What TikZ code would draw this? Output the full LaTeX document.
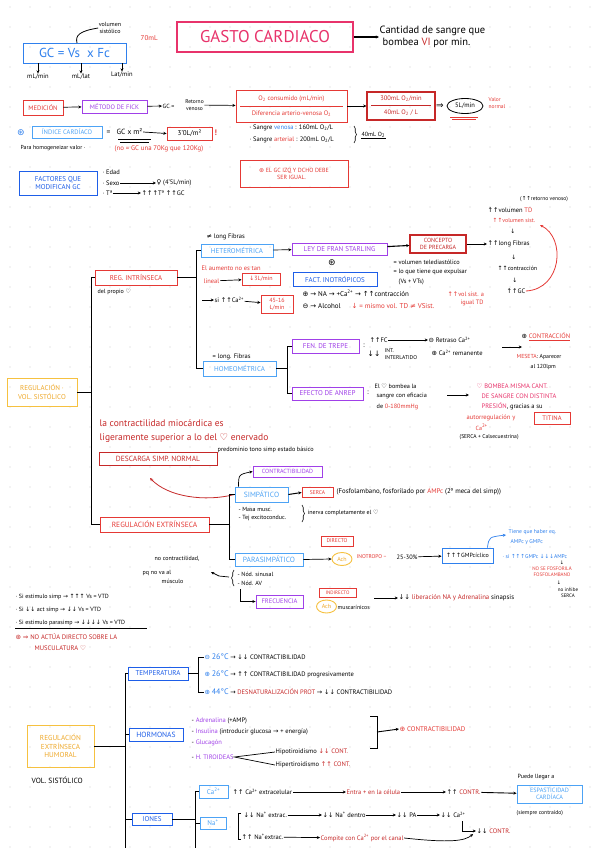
\documentclass[tikz,border=0pt]{standalone}
\usepackage{fontspec}
\setmainfont{PT Sans}
\newfontfamily\symf{DejaVu Sans}
\usetikzlibrary{arrows.meta,shapes.geometric,decorations.pathreplacing}
\definecolor{cRed}{HTML}{E53935}
\definecolor{cDRed}{HTML}{C62828}
\definecolor{cPink}{HTML}{E8336B}
\definecolor{cBlue}{HTML}{2F80ED}
\definecolor{cLBlue}{HTML}{4DA3F5}
\definecolor{cDBlue}{HTML}{1E5EE8}
\definecolor{cPurple}{HTML}{A040E8}
\definecolor{cYellow}{HTML}{F6C140}
\definecolor{cOrange}{HTML}{EFA92A}
\definecolor{dotc}{HTML}{CFCFCF}
\newcommand\fs[1]{\fontsize{#1}{\fpeval{1.18*#1}}\selectfont}
\newcommand\xU{{\symf ↑}}
\newcommand\xD{{\symf ↓}}
\newcommand\xR{{\symf →}}
\newcommand\xP{{\symf ⊕}}
\newcommand\xM{{\symf ⊖}}
\newcommand\xS{{\symf ⊛}}
\newcommand\xH{{\symf ♡}}
\newcommand\xF{{\symf ♀}}
\newcommand\xN{{\symf ≠}}
\newcommand\xDR{{\symf ⇒}}
\newcommand\sps[1]{\textsuperscript{#1}}
\begin{document}
\begin{tikzpicture}[x=1pt,y=-1pt,
  bx/.style={draw,line width=0.9pt,inner sep=1pt,align=center,font=\fs{7},anchor=center},
  tx/.style={inner sep=0.5pt,anchor=west,font=\fs{6.5}},
  arr/.style={-{Stealth[length=3.2pt,width=3pt]},line width=0.7pt},
  ln/.style={line width=0.9pt},
  brc/.style={decorate,decoration={brace,amplitude=2.5pt},line width=0.6pt}]
\fill[white] (0,0) rectangle (600,848);
\useasboundingbox (0,0) rectangle (600,848);
\foreach \gx in {10,30,...,590} \foreach \gy in {7,27,...,847} \fill[dotc] (\gx,\gy) circle (0.7);

% ---------- top ----------
\node[bx,draw=cBlue,text=cBlue,font=\fs{13},minimum width=103pt,minimum height=20pt] (gc) at (74.5,53) {GC = Vs\; x Fc};
\node[tx,anchor=center,font=\fs{6},align=center] (vsis) at (110,28) {volumen\\sistólico};
\draw[line width=0.8pt] (77,43) .. controls (75,35) and (80,31) .. (vsis.west);
\node[tx,anchor=center] (u1) at (38,77) {mL/min};
\node[tx,anchor=center] (u2) at (81,77) {mL/lat};
\node[tx,anchor=center] (u3) at (122,75) {Lat/min};
\draw[arr] (gc.south -| u1) -- (u1.north);
\draw[arr] (gc.south -| u2) -- (u2.north);
\draw[arr] (gc.south -| u3) -- (u3.north);
\node[tx,text=cRed,font=\fs{7}] (ml70) at (140,38) {70mL};
\node[bx,draw=cPink,text=cPink,line width=1.6pt,font=\fs{17},minimum width=176pt,minimum height=30pt] (gasto) at (265,37) {GASTO CARDIACO};
\node[tx,font=\fs{10.5},align=left] (def) at (379,37) {Cantidad de sangre que\\\hspace{3pt}bombea {\color{cDRed}VI} por min.};
\draw[arr,line width=1.1pt] (gasto.east) -- (def.west);

% ---------- medicion ----------
\node[bx,draw=cRed,text=cRed,font=\fs{6.5},minimum width=40pt,minimum height=15pt] (med) at (43,107.5) {MEDICIÓN};
\node[bx,draw=cPurple,text=cPurple,font=\fs{6.5},minimum width=65pt,minimum height=13pt] (fick) at (114.5,106.5) {MÉTODO DE FICK};
\draw[arr] (med) -- (fick);
\node[tx,font=\fs{6}] (gce) at (162,106) {GC =};
\node[tx,anchor=center,font=\fs{5.5},align=center] (rv) at (194.5,105) {Retorno\\venoso};
\draw[arr] (fick) -- (gce);
\node[bx,draw=cRed,minimum width=111pt,minimum height=32pt] (frac1) at (291.5,106) {};
\node[tx,anchor=center,text=cRed] (f1n) at (291.5,99) {O\textsubscript{2} consumido (mL/min)};
\node[tx,anchor=center,text=cRed] (f1d) at (291.5,114) {Diferencia arterio-venosa O\textsubscript{2}};
\draw[cRed,line width=0.7pt] (240,106) -- (343,106);
\draw[arr] (rv) -- (frac1);
\node[bx,draw=cDRed,line width=1.2pt,minimum width=68pt,minimum height=28pt] (frac2) at (401,106) {};
\node[tx,anchor=center,text=cDRed] (f2n) at (401,99) {300mL O\textsubscript{2}/min};
\node[tx,anchor=center,text=cDRed] (f2d) at (401,113) {40mL O\textsubscript{2} / L};
\draw[cDRed,line width=0.8pt] (371,105.5) -- (431,105.5);
\draw[arr] (frac1) -- (frac2);
\node[tx,anchor=center,font=\fs{9}] (impl) at (440,106) {\xDR};
\node[draw,ellipse,line width=0.8pt,minimum width=36pt,minimum height=15pt,inner sep=0pt,font=\fs{6.5}] (five) at (465,106) {5L/min};
\draw[cRed,line width=0.8pt] (450,117) -- (478,117) (452,119.5) -- (476,119.5);
\node[tx,text=cRed,font=\fs{5.5},align=left] (valor) at (488,103) {Valor\\normal};

% ---------- indice ----------
\node[tx,anchor=center,text=cBlue,font=\fs{9}] (star1) at (21,133) {\xS};
\node[bx,draw=cLBlue,text=cLBlue,font=\fs{6.5},minimum width=70pt,minimum height=12pt] (ic) at (67,132) {ÍNDICE CARDÍACO};
\node[tx,font=\fs{7.5}] (icf) at (106,132) {=\;\; GC x m²};
\draw[line width=0.6pt] (118,139.5) -- (151,139.5) (120,141.8) -- (149,141.8);
\node[bx,draw=cRed,font=\fs{7},minimum width=45pt,minimum height=13pt] (ib) at (189.5,133.5) {3'0L/m²};
\draw[arr] (icf.east) -- (ib.west);
\node[tx,text=cRed,font=\fs{8}] (excl) at (214,133) {\textbf{!}};
\node[tx] (sv) at (249,128) {· Sangre {\color{cBlue}venosa} : 160mL O\textsubscript{2}/L};
\node[tx] (sa) at (249,140) {· Sangre {\color{cRed}arterial} : 200mL O\textsubscript{2}/L};
\draw[brc] (354,126) -- (354,143);
\node[tx,font=\fs{6}] (o40) at (361,135) {40mL O\textsubscript{2}};
\draw[line width=1pt] (o40.south west) -- (o40.south east);
\node[tx,font=\fs{5.8}] (phv) at (20,148) {Para homogeneizar valor ·};
\node[tx,text=cRed,font=\fs{6.8}] (nogc) at (114,149) {(no = GC una 70Kg que 120Kg)};

% ---------- factores ----------
\node[bx,draw=cDBlue,text=cDBlue,font=\fs{7},minimum width=78pt,minimum height=24pt] (fac) at (58,183) {FACTORES QUE\\MODIFICAN GC};
\node[tx] (f1) at (102,172) {· Edad};
\node[tx] (f2) at (102,183) {· Sexo};
\node[tx] (f2b) at (156,183) {\xF\ (4'5L/min)};
\draw[arr] (f2) -- (f2b);
\node[tx] (f3) at (102,193) {· Tª};
\node[tx] (f3b) at (141,193) {\xU\xU\xU Tª \xU\xU GC};
\draw[arr] (f3) -- (f3b);
\node[bx,draw=cRed,text=cRed,font=\fs{6},minimum width=108pt,minimum height=27pt,align=left] (note1) at (294,173.5) {\xS\ EL GC IZQ Y DCHO DEBE\\\hspace{18pt}SER IGUAL.};

% ---------- regulacion intrinseca ----------
\node[bx,draw=cYellow,text=cOrange,font=\fs{7},minimum width=70pt,minimum height=28pt] (regv) at (42,392) {REGULACIÓN ·\\VOL. SISTÓLICO};
\node[bx,draw=cRed,text=cRed,font=\fs{7},minimum width=82pt,minimum height=15pt] (regi) at (136,277.5) {REG. INTRÍNSECA};
\node[tx,font=\fs{6}] (dp) at (97,292) {del propio \xH};
\node[bx,draw=cRed,text=cRed,font=\fs{7.5},minimum width=109pt,minimum height=15pt] (rege) at (154.5,524.5) {REGULACIÓN EXTRÍNSECA};
\draw[ln] (regi.west) -- (91,277.5) -- (91,524.5) -- (rege.west);
\draw[ln] (regv.east) -- (91,392);

\node[tx] (nlf) at (206,237) {\xN\ long Fibras};
\node[bx,draw=cLBlue,text=cLBlue,minimum width=72pt,minimum height=13pt] (het) at (237,250.5) {HETEROMÉTRICA};
\node[bx,draw=cLBlue,text=cLBlue,minimum width=73pt,minimum height=15pt] (homeo) at (239.5,368.5) {HOMEOMÉTRICA};
\draw[ln] (regi.east) -- (196,277.5);
\draw[ln] (het.west) -- (196,250.5) -- (196,368.5) -- (homeo.west);
\node[bx,draw=cPurple,text=cPurple,minimum width=95pt,minimum height=12pt] (ley) at (339.5,249) {LEY DE FRAN STARLING};
\node[bx,draw=cDRed,text=cDRed,line width=1.3pt,font=\fs{6},minimum width=56pt,minimum height=18pt] (prec) at (438,244) {CONCEPTO\\DE PRECARGA};
\draw[arr] (het) -- (ley);
\draw[arr,line width=1.1pt] (ley) -- (prec);
\node[tx,anchor=center,font=\fs{5.5}] (rv2) at (544,199) {(\xU\xU retorno venoso)};
\node[tx] (vtd) at (487,210) {\xU\xU volumen {\color{cRed}TD}};
\node[tx,text=cRed,font=\fs{5.8}] (vsist) at (492,220) {\xU\xU volumen sist.};
\node[tx,anchor=center,font=\fs{6}] (d1) at (513,231) {\xD};
\node[tx] (lf) at (487,244) {\xU\xU long Fibras};
\node[tx,anchor=center,font=\fs{6}] (d2) at (514,257) {\xD};
\node[tx,font=\fs{6}] (contr) at (497,268) {\xU\xU contracción};
\node[tx,anchor=center,font=\fs{6}] (d3) at (515,280) {\xD};
\node[tx] (gcu) at (506,291) {\xU\xU GC};
\draw[arr] (prec) -- (lf);
\coordinate (vst) at (540,225);
\draw[arr,cRed,line width=0.8pt] (gcu.east) .. controls (562,289) and (566,238) .. (vst);
\node[tx,anchor=center,font=\fs{9}] (st2) at (332,263) {\xS};
\node[tx,font=\fs{6.3}] (tele) at (393,262) {= volumen telediastólico};
\node[tx,font=\fs{6.3}] (expu) at (393,272) {= lo que tiene que expulsar};
\node[tx,font=\fs{6.3}] (vsvt) at (398,282) {(Vs + VTs)};
\node[bx,draw=cDBlue,text=cDBlue,minimum width=84pt,minimum height=14pt] (ino) at (335,279) {FACT. INOTRÓPICOS};
\node[tx,text=cRed] (aum) at (201,268) {El aumento no es tan};
\node[tx,text=cRed] (lin) at (203,281) {lineal};
\node[bx,draw=cRed,text=cRed,font=\fs{6},minimum width=38pt,minimum height=12pt] (l3) at (261,279) {\xD 3L/min};
\draw[arr] (lin) -- (l3);
\coordinate (sic0) at (202,300);
\node[tx] (sica) at (214,300) {si \xU\xU Ca\sps{2+}};
\node[bx,draw=cRed,text=cRed,font=\fs{6},minimum width=32pt,minimum height=18pt] (b45) at (277,304) {45-16\\L/min};
\draw[arr] (sic0) -- (sica);
\draw[arr] (sica) -- (b45);
\node[tx,font=\fs{7}] (inop) at (302,293) {\xP\ \xR\ NA \xR\ +Ca\sps{2+} \xR\ \xU\xU contracción};
\node[tx,text=cRed,font=\fs{6.3}] (inopr) at (447,294) {\xU\xU vol sist. a};
\node[tx,text=cRed,font=\fs{6.3}] (igtd) at (460,303) {igual TD};
\node[tx,font=\fs{7}] (inom) at (302,306) {\xM\ \xR\ Alcohol};
\node[tx,text=cRed,font=\fs{7}] (inomr) at (351,306) {\xD\ = mismo vol. TD \xN\ VSist.};

\node[tx] (elf) at (212,357) {= long. Fibras};
\node[bx,draw=cPurple,text=cPurple,minimum width=67pt,minimum height=14pt] (fen) at (325.5,346) {FEN. DE TREPE};
\node[bx,draw=cPurple,text=cPurple,minimum width=71pt,minimum height=13pt] (anrep) at (327.5,393.5) {EFECTO DE ANREP};
\draw[ln] (homeo.east) -- (287,368.5);
\draw[ln] (fen.west) -- (287,346) -- (287,393.5) -- (anrep.west);
\node[tx,anchor=center,font=\fs{7}] (c1) at (364,346) {:};
\node[tx] (fc) at (369,340) {\xU\xU FC};
\node[tx,anchor=center,font=\fs{7.5}] (intd) at (374,354) {\xD\xD};
\node[tx,font=\fs{5.5},align=left] (intl) at (384,354) {INT.\\INTERLATIDO};
\node[tx] (ret) at (428,340) {\xM\ Retraso Ca\sps{2+}};
\node[tx] (rem) at (431,353) {\xP\ Ca\sps{2+} remanente};
\draw[arr] (fc) -- (ret);
\coordinate (ar1) at (502,347);
\coordinate (ar2) at (522,347);
\draw[arr] (ar1) -- (ar2);
\node[tx] (contrac) at (521,337) {\xP\ {\color{cRed}\underline{CONTRACCIÓN}}};
\node[tx,font=\fs{5.8}] (mes) at (516,357) {{\color{cRed}MESETA}: Aparecer};
\node[tx,font=\fs{5.8}] (mes2) at (530,367) {al 120lpm};
\node[tx,anchor=center,font=\fs{7}] (c2) at (368,393) {:};
\node[tx,font=\fs{6.2}] (ea1) at (374,386) {El \xH\ bombea la};
\node[tx,font=\fs{6.2}] (ea2) at (376,396) {sangre con eficacia};
\node[tx,font=\fs{6.2}] (ea3) at (376,407) {de {\color{cRed}0-180mmHg}};
\coordinate (aa1) at (447,395);
\coordinate (aa2) at (469,395);
\draw[arr] (aa1) -- (aa2);
\node[tx,text=cPink] (pk1) at (476,386) {\xH\ BOMBEA MISMA CANT.};
\node[tx,text=cPink] (pk2) at (481,396) {DE SANGRE CON DISTINTA};
\node[tx,text=cPink] (pk3) at (481,406) {PRESIÓN{\color{black}, gracias a su}};
\node[tx,text=cRed] (pk4) at (466,418) {autorregulación y};
\node[bx,draw=cRed,text=cRed,font=\fs{6.5},minimum width=36pt,minimum height=12pt] (tit) at (552,418.5) {TITINA};
\node[tx,text=cRed,font=\fs{6}] (ca) at (475,427) {Ca\sps{2+}};
\node[tx,font=\fs{5.6}] (serca1) at (459,437) {(SERCA + Calsecuestrina)};

% ---------- regulacion extrinseca ----------
\node[tx,text=cDRed,font=\fs{9.5}] (lc1) at (99,423) {la contractilidad miocárdica es};
\node[tx,text=cDRed,font=\fs{9.5}] (lc2) at (99,438) {ligeramente superior a lo del \xH\ enervado};
\node[tx,font=\fs{6.2}] (pred) at (217,450) {predominio tono simp estado básico};
\node[bx,draw=cDRed,text=cDRed,font=\fs{7.5},minimum width=118pt,minimum height=13pt] (desc) at (158,458.5) {DESCARGA SIMP. NORMAL};
\node[bx,draw=cPurple,text=cPurple,font=\fs{6},minimum width=69pt,minimum height=11pt] (ctb) at (287.5,471.5) {CONTRACTIBILIDAD};
\node[bx,draw=cLBlue,text=cLBlue,font=\fs{7.5},minimum width=53pt,minimum height=15pt] (simp) at (261.5,494.5) {SIMPÁTICO};
\draw[arr] ([xshift=4pt]simp.north west) .. controls +(0,-12) .. (ctb.west);
\coordinate (tipd) at (150,478);
\draw[arr,cDRed,line width=0.8pt] (simp.west) .. controls (205,502) and (168,497) .. (tipd);
\node[bx,draw=cRed,text=cRed,font=\fs{5.5},minimum width=31pt,minimum height=10pt] (serca) at (317.5,492.5) {SERCA};
\draw[arr,line width=1pt] (simp.east) -- (serca.west);
\node[tx,font=\fs{6.8}] (fosfo) at (336,492) {(Fosfolambano, fosforilado por {\color{cRed}AMPc} (2º meca del simp))};
\node[tx,font=\fs{6}] (masa) at (238,509) {- Masa musc.};
\node[tx,font=\fs{6}] (tej) at (238,518) {- Tej excitoconduc.};
\draw[brc] (302,505) -- (302,522);
\node[tx,font=\fs{6}] (inerva) at (307,513) {inerva completamente el \xH};
\node[bx,draw=cLBlue,text=cLBlue,font=\fs{7.5},minimum width=68pt,minimum height=13pt] (para) at (269,559.5) {PARASIMPÁTICO};
\draw[ln] (rege.east) -- (229,524.5);
\draw[ln] (simp.west) -- (229,494.5) -- (229,559.5) -- (para.west);
\node[tx,font=\fs{6}] (noc) at (154,559) {no contractilidad,};
\node[tx,font=\fs{6}] (pq) at (142,573) {pq no va al};
\node[tx,font=\fs{6}] (musc) at (161,581) {músculo};
\coordinate (bk1) at (229,577);
\coordinate (bk2) at (211,572);
\draw[arr] (bk1) -- (219,576) -- (bk2);
\draw[brc] (234,586) -- (234,570);
\node[tx,font=\fs{6}] (nods) at (237,574) {- Nód. sinusal};
\node[tx,font=\fs{6}] (nodav) at (237,583) {- Nód. AV};
\coordinate (fr0) at (240,589);
\node[bx,draw=cPurple,text=cPurple,font=\fs{6.5},minimum width=47pt,minimum height=13pt] (freq) at (279.5,601.5) {FRECUENCIA};
\draw[arr] (fr0) |- (freq.west);
\node[bx,draw=cRed,text=cRed,font=\fs{5.5},minimum width=32pt,minimum height=10pt] (dir) at (337,541) {DIRECTO};
\node[draw=cYellow,ellipse,line width=0.9pt,text=cOrange,font=\fs{6},minimum width=20pt,minimum height=13pt,inner sep=0pt] (ach1) at (342,559) {Ach};
\draw[arr] (para.east) -- (ach1.west);
\node[tx,text=cRed,font=\fs{5.5}] (inot) at (356,557) {INOTROPO \textminus};
\node[tx,font=\fs{6.3}] (pct) at (396,557) {25-30\%};
\node[bx,draw=cBlue,font=\fs{6},minimum width=51pt,minimum height=15pt] (gmpc) at (467.5,555.5) {\xU\xU\xU GMPcíclico};
\draw[arr] (pct) -- (gmpc);
\coordinate (teqc) at (506,535);
\draw[arr,cBlue] ([xshift=-6pt]gmpc.north east) .. controls (489,537) .. (teqc);
\node[tx,text=cBlue,font=\fs{5.6}] (teq) at (508,532) {Tiene que haber eq.};
\node[tx,text=cBlue,font=\fs{5.6}] (teq2) at (510,542) {AMPc y GMPc};
\node[tx,text=cBlue,font=\fs{5.6}] (sig) at (502,556) {· si \xU\xU\xU GMPc \xD\xD\xD AMPc};
\node[tx,anchor=center,font=\fs{5}] (dar1) at (562,563) {\xD};
\node[tx,anchor=center,text=cRed,font=\fs{5},align=center] (nofos) at (552,572) {NO SE FOSFORILA\\FOSFOLAMBANO};
\node[tx,anchor=center,font=\fs{5}] (dar2) at (559,583) {\xD};
\node[tx,anchor=center,font=\fs{5},align=center] (noinh) at (568,592.5) {no inhibe\\SERCA};
\node[bx,draw=cRed,text=cRed,font=\fs{5},minimum width=37pt,minimum height=9pt] (ind) at (337.5,592.5) {INDIRECTO};
\node[draw=cYellow,ellipse,line width=0.9pt,text=cOrange,font=\fs{6},minimum width=20pt,minimum height=13pt,inner sep=0pt] (ach2) at (326.5,606.5) {Ach};
\node[tx,font=\fs{5.8}] (musca) at (337,607) {muscarínicos};
\coordinate (ia1) at (374,598);
\node[tx,font=\fs{6.8}] (lib) at (398,598) {\xD\xD\ {\color{cDRed}liberación NA y Adrenalina} sinapsis};
\draw[arr] (ia1) -- (lib.west);

% ---------- left notes ----------
\node[tx,font=\fs{6}] (n1) at (15,597) {· Si estimulo simp \xR\ \xU\xU\xU\ Vs = VTD};
\node[tx,font=\fs{6}] (n2) at (15,610) {· Si \xD\xD\ act simp \xR\ \xD\xD\ Vs = VTD};
\node[tx,font=\fs{6}] (n3) at (15,623) {· Si estimulo parasimp \xR\ \xD\xD\xD\xD\ Vs = VTD};
\draw[line width=0.6pt] ([yshift=-1.5pt]n3.south west) -- ++(132,0);
\node[tx,text=cDRed,font=\fs{6.6}] (n4) at (15,637) {\xS\ \xDR\ NO ACTÚA DIRECTO SOBRE LA};
\node[tx,text=cDRed,font=\fs{6.6}] (n5) at (34,648) {MUSCULATURA \xH};

% ---------- humoral ----------
\node[bx,draw=cDBlue,text=cDBlue,minimum width=60pt,minimum height=13pt] (temp) at (158,673.5) {TEMPERATURA};
\coordinate (tb) at (125,850);
\draw[ln] (temp.west) -- (125,673.5) -- (tb);
\draw[ln] (temp.east) -- (198,673.5);
\node[tx] (t1) at (204,657) {{\color{cBlue}\xM\ {\fs{8}26°C}} \xR\ \xD\xD\ CONTRACTIBILIDAD};
\node[tx] (t2) at (204,674) {{\color{cBlue}\xP\ {\fs{8}26°C}} \xR\ \xU\xU\ CONTRACTIBILIDAD progresivamente};
\node[tx] (t3) at (204,692) {{\color{cBlue}\xP\ {\fs{8}44°C}} \xR\ {\color{cDRed}DESNATURALIZACIÓN PROT} \xR\ \xD\xD\ CONTRACTIBILIDAD};
\draw[ln] (t1.west) -- (198,657) -- (198,692) -- (t3.west);
\node[bx,draw=cYellow,text=cOrange,font=\fs{7.2},minimum width=67pt,minimum height=42pt] (hum) at (60.5,746) {REGULACIÓN\\EXTRÍNSECA\\HUMORAL};
\draw[ln] (hum.east) -- (125,746);
\node[tx,font=\fs{7.5}] (vsh) at (31,780) {VOL. SISTÓLICO};
\node[bx,draw=cDBlue,text=cDBlue,font=\fs{7.5},minimum width=54pt,minimum height=13pt] (horm) at (156,734.5) {HORMONAS};
\draw[ln] (125,734.5) -- (horm.west);
\node[tx] (h1) at (191,721) {- {\color{cPurple}Adrenalina} (+AMP)};
\node[tx] (h2) at (191,732) {- {\color{cPurple}Insulina} (introducir glucosa \xR\ + energía)};
\node[tx] (h3) at (191,743) {- {\color{cPurple}Glucagón}};
\node[tx] (h4) at (191,757) {- {\color{cPurple}H. TIROIDEAS}};
\node[tx] (hipo) at (275,752) {Hipotiroidismo {\color{cDRed}\xD\xD\ CONT.}};
\node[tx] (hiper) at (275,765) {Hipertiroidismo {\color{cDRed}\xU\xU\ CONT.}};
\draw[line width=0.7pt] (hipo.west) -- (h4.east) -- (hiper.west);
\draw[ln] (370,716) -- (377,716) -- (377,748) -- (370,748);
\coordinate (hb) at (377,732);
\node[tx,text=cRed,font=\fs{6.8}] (cpos) at (399,729) {\xP\ CONTRACTIBILIDAD};
\draw[arr,line width=0.9pt] (hb) -- (cpos.west);

\node[bx,draw=cDBlue,text=cDBlue,minimum width=40pt,minimum height=12pt] (ion) at (152,819) {IONES};
\draw[ln] (125,819) -- (ion.west);
\coordinate (ib2) at (195,850);
\draw[ln] (ion.east) -- (195,819);
\node[bx,draw=cLBlue,text=cLBlue,minimum width=29pt,minimum height=13pt] (cab) at (213.5,791.5) {Ca\sps{2+}};
\node[bx,draw=cLBlue,text=cLBlue,minimum width=26pt,minimum height=12pt] (nab) at (213,823) {Na\sps{+}};
\draw[ln] (cab.west) -- (195,791.5) -- (ib2);
\draw[ln] (195,823) -- (nab.west);
\node[tx] (ca1) at (232,792) {\xU\xU\ Ca\sps{2+} extracelular};
\node[tx,text=cDRed] (ca2) at (346,792) {Entra + en la célula};
\node[tx] (ca3) at (446,792) {\xU\xU\ {\color{cDRed}CONTR.}};
\node[bx,draw=cLBlue,text=cLBlue,font=\fs{6.2},minimum width=65pt,minimum height=18pt] (esp) at (549.5,794) {ESPASTICIDAD\\CARDÍACA};
\draw[arr,line width=0.9pt] (ca1) -- (ca2);
\draw[arr,line width=0.9pt] (ca2) -- (ca3);
\draw[arr,line width=0.9pt] (ca3) -- (esp);
\node[tx,font=\fs{6}] (pla) at (517,777) {Puede llegar a};
\node[tx,font=\fs{5.6}] (sc) at (516,813) {(siempre contraído)};
\draw[line width=0.7pt] (241,813) -- (238,813) -- (238,839) -- (241,839);
\node[tx] (na1) at (243,815) {\xD\xD\ Na\sps{+} extrac.};
\node[tx] (na2) at (322,815) {\xD\xD\ Na\sps{+} dentro};
\node[tx] (na3) at (396,815) {\xD\xD\ PA};
\node[tx] (na4) at (440,815) {\xD\xD\ Ca\sps{2+}};
\draw[arr] (na1) -- (na2);
\draw[arr] (na2) -- (na3);
\draw[arr] (na3) -- (na4);
\node[tx] (ncon) at (476,831) {\xD\xD\ {\color{cDRed}CONTR.}};
\coordinate (nk) at (462,821);
\draw[arr] (nk) |- (ncon.west);
\node[tx] (na5) at (241,837) {\xU\xU\ Na\sps{+}extrac.};
\node[tx,text=cDRed] (na6) at (320,838) {Compite con Ca\sps{2+} por el canal};
\draw[arr] (na5) -- (na6);
\coordinate (nk2) at (473,834);
\draw[arr] (na6.east) .. controls (450,843) and (465,841) .. (nk2);
\end{tikzpicture}
\end{document}
